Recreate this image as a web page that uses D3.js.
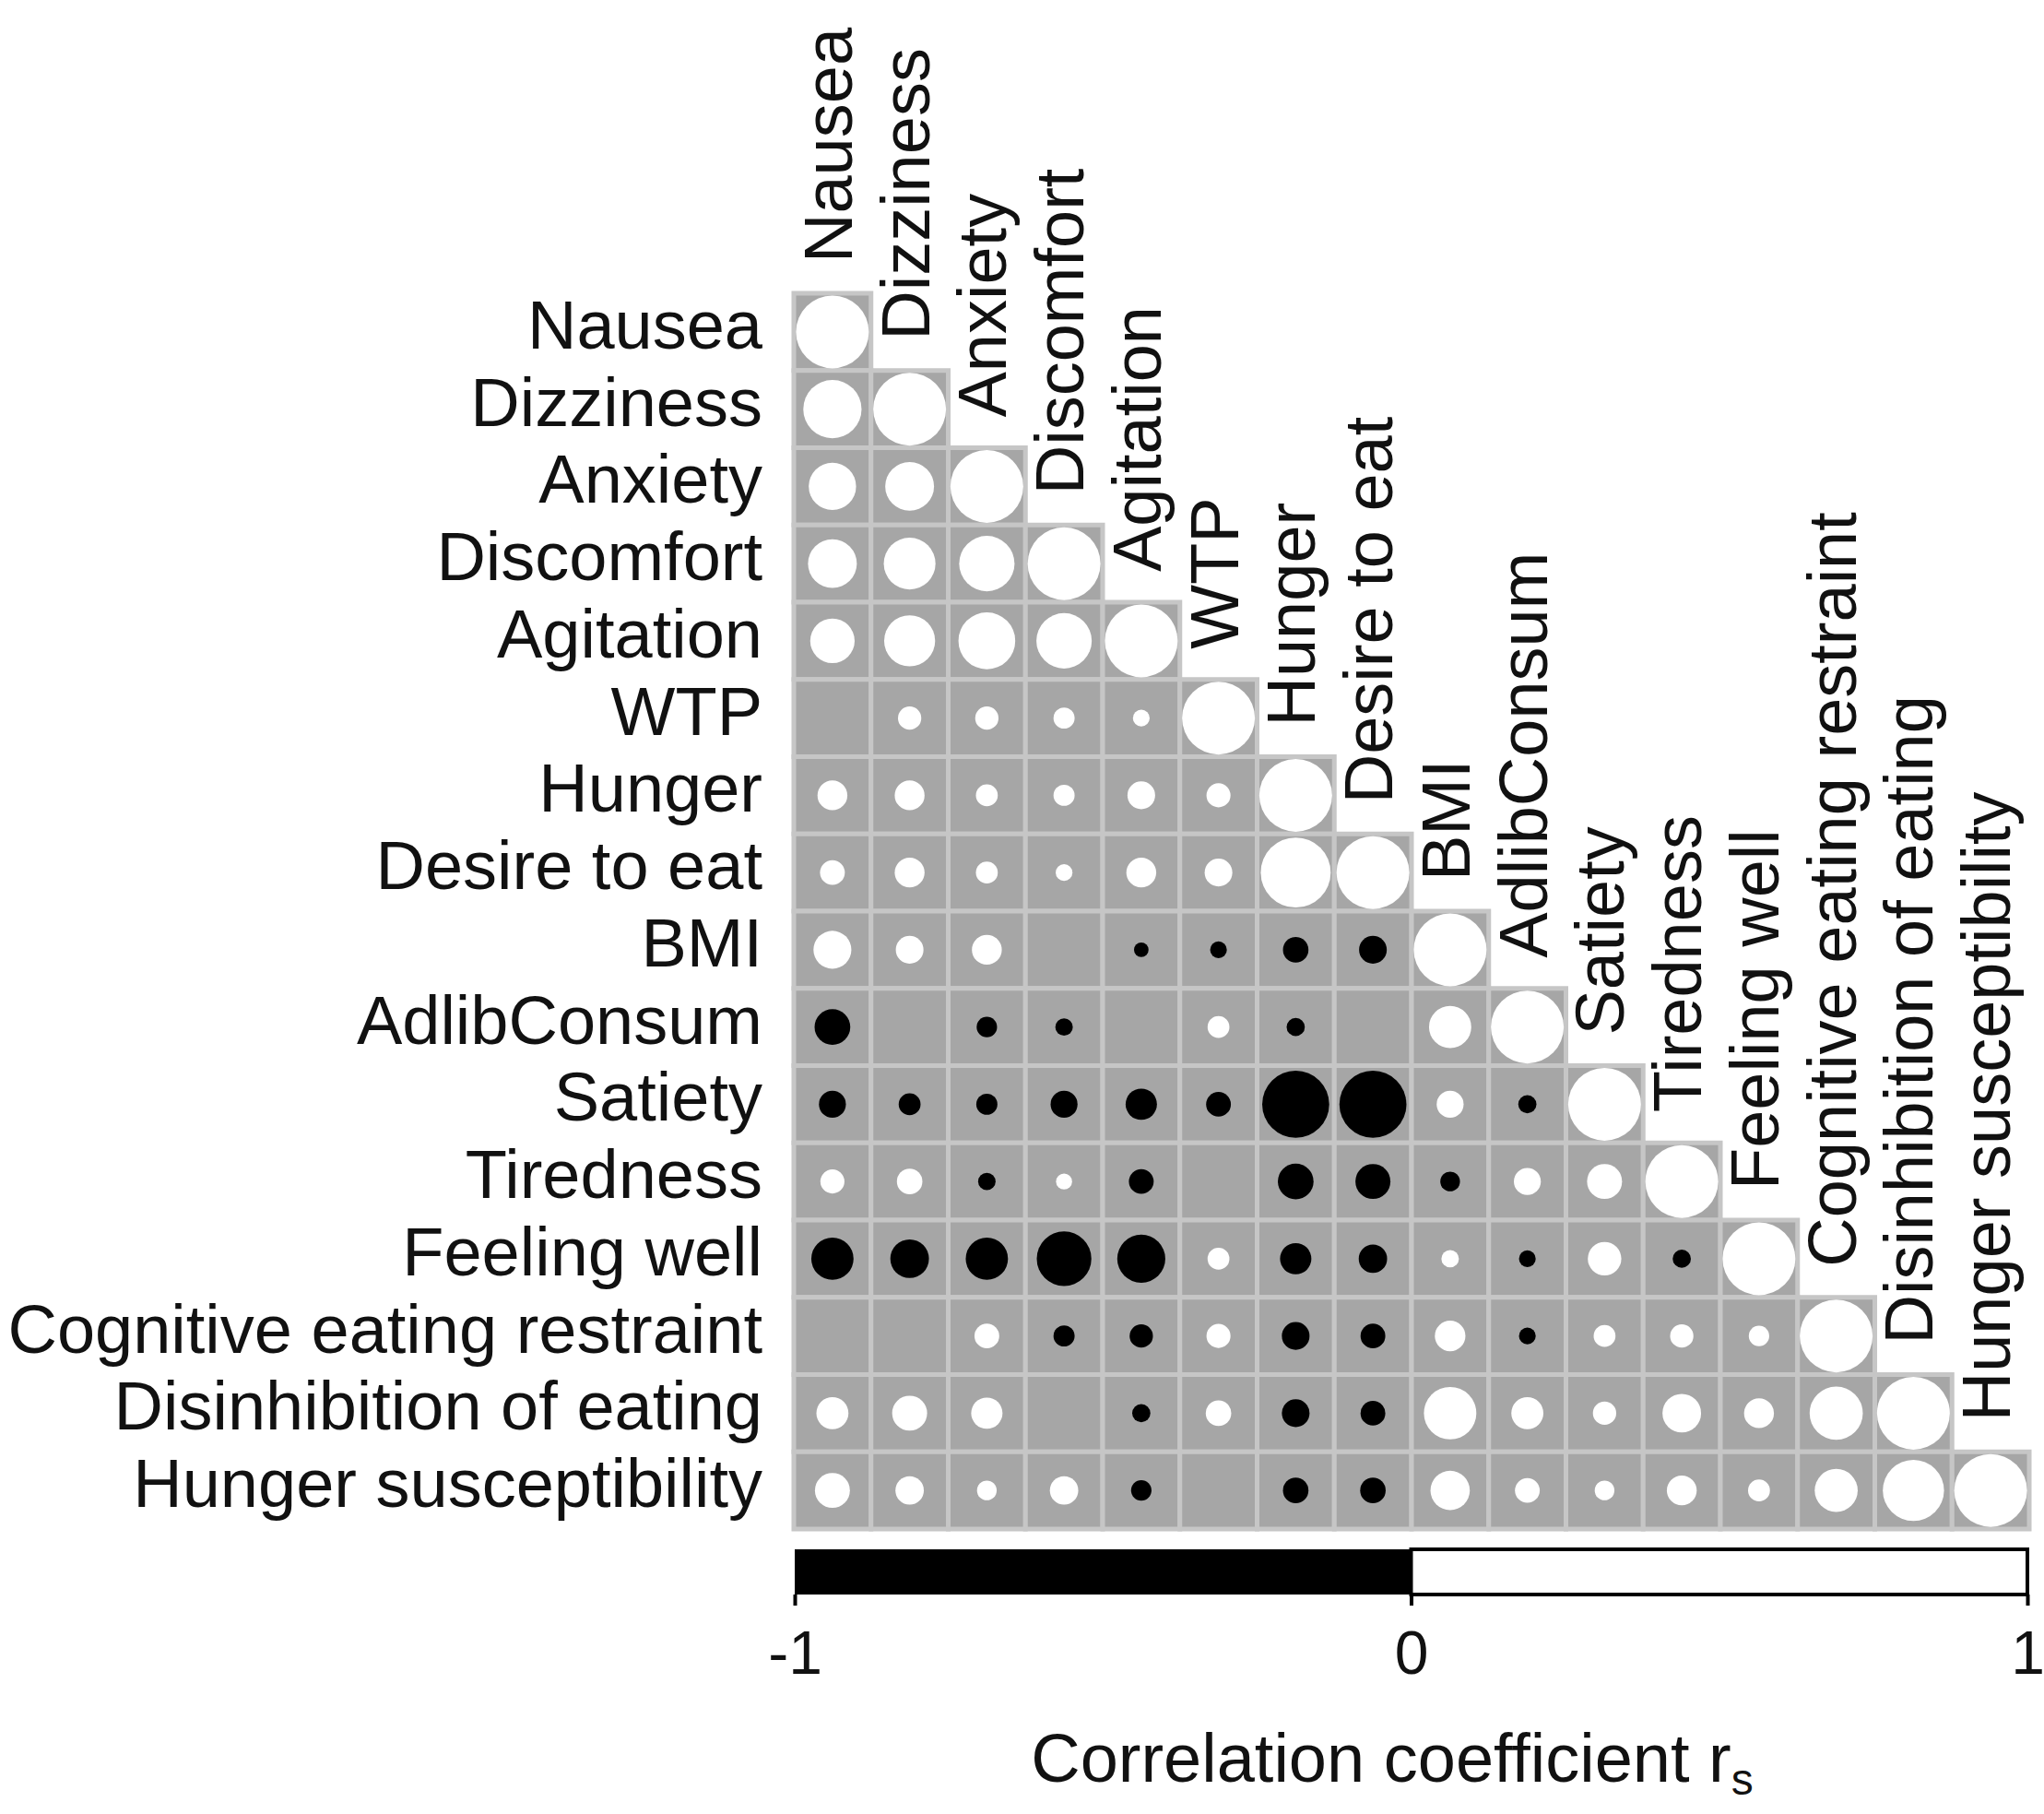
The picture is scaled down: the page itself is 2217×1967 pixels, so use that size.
<!DOCTYPE html>
<html lang="en">
<head>
  <meta charset="UTF-8">
  <style>
    html, body { margin: 0; padding: 0; background: #fff; }
    text { font-family: "Liberation Sans", Arial, sans-serif; fill: #111; }
  </style>
  <script src="https://d3js.org/d3.v7.min.js"></script>
</head>
<body>
  <svg id="chart" width="2217" height="1967"></svg>

  <script>
    // variable names, same order for rows and columns
    const variables = [
      "Nausea", "Dizziness", "Anxiety", "Discomfort", "Agitation", "WTP",
      "Hunger", "Desire to eat", "BMI", "AdlibConsum", "Satiety", "Tiredness",
      "Feeling well", "Cognitive eating restraint", "Disinhibition of eating",
      "Hunger susceptibility"
    ];

    // lower triangle of Spearman r (null = not significant, no circle)
    const corrRows = [
      [1],
      [0.80, 1],
      [0.65, 0.67, 1],
      [0.67, 0.71, 0.76, 1],
      [0.61, 0.70, 0.78, 0.76, 1],
      [null, 0.32, 0.32, 0.29, 0.23, 1],
      [0.41, 0.41, 0.30, 0.29, 0.38, 0.33, 1],
      [0.34, 0.41, 0.30, 0.23, 0.41, 0.38, 0.96, 1],
      [0.52, 0.38, 0.41, null, -0.20, -0.23, -0.35, -0.38, 1],
      [-0.49, null, -0.28, -0.24, null, 0.30, -0.25, null, 0.58, 1],
      [-0.37, -0.30, -0.29, -0.37, -0.43, -0.34, -0.92, -0.92, 0.37, -0.25, 1],
      [0.33, 0.35, -0.24, 0.22, -0.34, null, -0.49, -0.48, -0.27, 0.37, 0.48, 1],
      [-0.58, -0.53, -0.58, -0.75, -0.66, 0.30, -0.43, -0.39, 0.24, -0.23, 0.46, -0.25, 1],
      [null, null, 0.34, -0.29, -0.32, 0.33, -0.38, -0.34, 0.42, -0.23, 0.30, 0.32, 0.28, 1],
      [0.44, 0.48, 0.43, null, -0.25, 0.35, -0.38, -0.34, 0.72, 0.44, 0.32, 0.53, 0.41, 0.73, 1],
      [0.48, 0.39, 0.27, 0.39, -0.28, null, -0.35, -0.35, 0.54, 0.34, 0.27, 0.41, 0.30, 0.59, 0.84, 1]
    ];

    const legendTicks = [-1, 0, 1];
    const legendRange = [-1, 0, 1]; // black from -1 to 0, white from 0 to 1

    const svg = d3.select('#chart');

    const gridLeft = 861, gridTop = 318, gridSize = 1340;
    const fontSize = 74;

    const x = d3.scaleBand().domain(variables).range([gridLeft, gridLeft + gridSize]);
    const y = d3.scaleBand().domain(variables).range([gridTop, gridTop + gridSize]);
    const rScale = d3.scaleLinear().domain([0, 1]).range([0, 39.5]);

    // flatten triangle into cells
    const cells = [];
    corrRows.forEach((row, i) => {
      row.forEach((v, j) => {
        cells.push({ row: variables[i], col: variables[j], value: v });
      });
    });

    // gray cell backgrounds
    svg.append('g')
      .selectAll('rect')
      .data(cells)
      .join('rect')
      .attr('x', d => x(d.col))
      .attr('y', d => y(d.row))
      .attr('width', x.bandwidth())
      .attr('height', y.bandwidth())
      .attr('fill', '#a6a6a6')
      .attr('stroke', '#c6c6c6')
      .attr('stroke-width', 5);

    // circles: size by |r|, white positive, black negative
    svg.append('g')
      .selectAll('circle')
      .data(cells.filter(d => d.value !== null))
      .join('circle')
      .attr('cx', d => x(d.col) + x.bandwidth() / 2)
      .attr('cy', d => y(d.row) + y.bandwidth() / 2)
      .attr('r', d => rScale(Math.abs(d.value)))
      .attr('fill', d => d.value > 0 ? '#fff' : '#000');

    // row labels on the left
    svg.append('g')
      .selectAll('text')
      .data(variables)
      .join('text')
      .attr('x', gridLeft - 34)
      .attr('y', d => y(d) + y.bandwidth() / 2 + 18)
      .attr('text-anchor', 'end')
      .attr('font-size', fontSize)
      .text(d => d);

    // column labels, rotated, sitting on top of each diagonal cell
    svg.append('g')
      .selectAll('text')
      .data(variables)
      .join('text')
      .attr('transform', d => `translate(${x(d) + x.bandwidth() / 2 + 21}, ${y(d) - 33}) rotate(-90)`)
      .attr('text-anchor', 'start')
      .attr('font-size', fontSize)
      .text(d => d);

    // colour legend bar
    const barTop = 1680, barBottom = 1729;
    const lx = d3.scaleLinear().domain([-1, 1]).range([gridLeft + 1, 2199]);

    svg.append('rect')
      .attr('x', lx(legendRange[0]))
      .attr('y', barTop)
      .attr('width', lx(legendRange[1]) - lx(legendRange[0]))
      .attr('height', barBottom - barTop)
      .attr('fill', '#000');

    svg.append('rect')
      .attr('x', lx(legendRange[1]))
      .attr('y', barTop)
      .attr('width', lx(legendRange[2]) - lx(legendRange[1]))
      .attr('height', barBottom - barTop)
      .attr('fill', '#fff')
      .attr('stroke', '#000')
      .attr('stroke-width', 4);

    const axis = svg.append('g')
      .attr('transform', `translate(0, ${barBottom})`)
      .call(d3.axisBottom(lx)
        .tickValues(legendTicks)
        .tickSize(12)
        .tickPadding(27)
        .tickFormat(d => String(d)));

    axis.select('.domain').remove();
    axis.selectAll('.tick line').attr('stroke', '#000').attr('stroke-width', 4);
    axis.selectAll('.tick text')
      .attr('font-size', 66)
      .attr('font-family', '"Liberation Sans", Arial, sans-serif')
      .attr('fill', '#111');

    // axis title with subscript s
    const title = svg.append('text')
      .attr('x', 1510)
      .attr('y', 1932)
      .attr('text-anchor', 'middle')
      .attr('font-size', fontSize)
      .text('Correlation coefficient r');

    title.append('tspan')
      .attr('dy', 14)
      .attr('font-size', 48)
      .text('s');
  </script>
</body>
</html>
